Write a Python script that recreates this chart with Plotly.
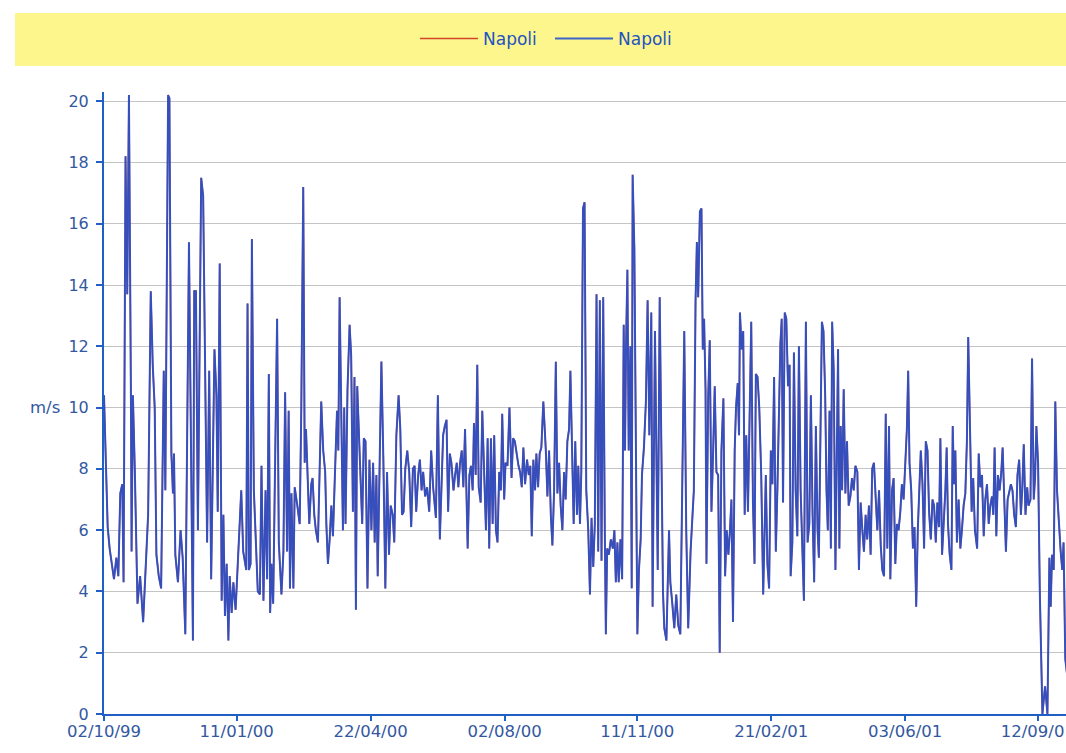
import pandas as pd
import plotly.graph_objects as go

# ---------------- data ----------------
START_DATE = "1999-10-02"
SERIES_NAMES = ["Napoli", "Napoli"]
Y_UNIT = "m/s"
TICK_DATES = ["1999-10-02", "2000-01-11", "2000-04-22", "2000-08-02",
              "2000-11-11", "2001-02-21", "2001-06-03", "2001-09-12"]
Y_TICKS = [0, 2, 4, 6, 8, 10, 12, 14, 16, 18, 20]

# days after START_DATE
DAY_OFFSET = [
    0, 2.8, 4.3, 5.8, 7.6, 9.4, 10.9, 12.4, 13.9, 14.9, 16.4, 17.7, 19.0, 20.5, 21.0, 22.0,
    23.5, 25.5, 27.5, 29.8, 31.6, 33.6, 35.6, 37.1, 38.6, 39.9, 41.7, 43.5, 45.5, 46.7, 48.8,
    49.8, 51.3, 52.5, 53.3, 54.3, 56.3, 58.3, 59.9, 61.9, 64.7, 67.7, 68.7, 70.0, 71.5, 74.0,
    75.5, 77.0, 78.5, 80.1, 81.6, 84.1,
    85.6, 86.6, 88.1, 89.6, 90.9, 92.1, 93.4, 94.7, 95.7, 97.2, 98.5, 100.2, 102.8, 104.5,
    106.0, 107.3, 108.3, 109.3, 110.3, 111.6, 112.6, 114.1, 115.4, 117.1, 118.7, 119.9, 121.4,
    123.0, 124.2, 125.5, 126.5, 127.5, 128.8, 130.0, 131.8, 133.1, 135.1, 136.6, 137.9, 139.4,
    140.6, 141.6, 142.7, 144.2, 145.2, 147.2, 149.0, 150.2, 151.7, 152.8, 153.8, 155.0, 156.3,
    157.8, 158.8, 160.1, 161.3, 162.9, 164.1, 165.4, 166.9, 168.4,
    169.3, 170.5, 171.8, 173.1, 174.3, 175.8, 177.4, 178.4, 179.4, 180.6, 181.9, 182.9, 183.9,
    185.4, 187.0, 188.2, 189.5, 190.7, 191.8, 192.8, 193.8, 195.0, 196.6, 197.8, 199.1, 200.6,
    202.1, 203.6, 204.9, 206.1, 207.4, 208.4, 209.7, 211.2, 212.7, 214.2, 215.5, 217.0, 218.3,
    219.8, 221.0, 222.6, 224.3, 225.6, 226.9, 228.1, 229.4, 230.9, 232.4, 233.9, 235.2, 236.5,
    237.7, 239.2, 240.5, 241.8, 243.0, 244.5, 246.0, 247.6, 249.1, 250.6,
    252.7, 254.2, 255.7, 257.0, 258.2, 259.5, 260.8, 262.0, 263.3, 264.5, 266.1, 267.3, 268.6,
    269.8, 271.1, 272.4, 273.6, 274.9, 275.9, 276.9, 278.2, 279.4, 280.7, 281.7, 283.0, 284.2,
    285.3, 286.8, 288.0, 289.5, 290.8, 292.1, 293.3, 294.6, 295.9, 297.1, 298.4, 299.6, 300.9,
    302.2, 303.2, 304.7, 305.7, 307.2, 308.7, 310.3, 311.5, 312.8, 314.0, 315.6, 316.8, 318.1,
    319.3, 320.6, 322.1, 323.4, 324.6, 325.7, 326.9, 328.2, 329.2, 330.5, 331.7, 333.0, 334.5,
    336.4, 337.6, 338.9, 340.2, 341.4, 342.7, 344.0, 345.2, 346.5, 347.7, 349.0, 350.3, 351.5,
    352.8, 354.1, 355.1, 356.3, 357.6, 358.8, 360.1, 361.1, 362.4, 363.4, 364.7, 365.9, 367.2,
    368.7, 370.0, 371.2, 372.5, 373.7, 375.0, 376.3, 377.5, 378.8, 380.1, 381.3, 382.1, 383.1,
    384.4, 385.9, 387.4, 388.6, 389.7, 390.9, 391.9, 393.2, 394.5, 395.7, 396.7, 397.5, 398.5,
    399.5, 400.8, 401.8, 402.5, 403.8, 405.1, 406.1, 407.3, 408.6, 409.6, 411.1, 412.6, 413.9,
    415.2, 416.7, 417.7,
    419.5, 421.6, 423.1, 424.6, 425.6, 426.6, 428.2, 430.2, 431.2, 432.7, 434.2, 435.7, 437.2,
    438.8, 440.3, 441.8, 443.3, 444.8, 446.6, 449.1, 450.4, 451.4, 452.4, 453.7, 454.9, 455.9,
    456.9, 458.0, 458.7, 460.0, 461.2, 462.5, 463.8, 465.0, 466.3, 467.6, 468.8, 470.1, 471.6,
    472.9, 474.1, 475.4, 476.6, 477.7, 478.9, 480.2, 481.2, 482.5, 483.5, 484.2, 485.5, 486.7,
    487.8, 489.0, 490.3, 491.5, 492.8, 494.1, 495.3, 496.3, 497.6, 498.9, 500.4, 501.9,
    503.9, 505.1, 506.4, 507.7, 508.9, 510.2, 511.5, 512.7, 514.0, 515.0, 516.0, 517.0, 518.3,
    519.5, 520.8, 522.0, 522.8, 524.1, 525.3, 526.6, 527.9, 529.1, 530.4, 531.7, 532.9, 534.4,
    535.7, 537.0, 538.2, 539.5, 540.7, 542.0, 543.3, 544.3, 545.3, 546.6, 547.8, 549.1, 550.1,
    551.1, 552.4, 553.4, 554.4, 555.6, 556.9, 557.9, 558.9, 559.9, 560.9, 562.0, 563.2, 564.5,
    565.7, 567.0, 568.3, 569.5, 570.8, 572.1, 573.6, 574.8, 576.1, 577.4, 578.6, 579.9, 581.1,
    582.4, 583.7, 584.9, 586.2,
    588.8, 590.1, 591.4, 592.6, 593.9, 595.2, 596.4, 597.7, 598.7, 600.0, 601.2, 602.5, 603.7,
    605.0, 606.3, 607.5, 608.8, 610.0, 611.3, 612.3, 613.3, 614.6, 615.9, 617.1, 618.4, 619.6,
    620.9, 621.9, 623.2, 624.4, 625.7, 627.0, 628.2, 629.5, 630.8, 632.0, 633.3, 634.5, 635.8,
    636.8, 638.1, 639.3, 640.6, 641.6, 642.6, 643.9, 645.2, 646.2, 647.2, 648.2, 649.4, 650.7,
    652.0, 653.2, 654.5, 655.8, 657.0, 658.0, 659.3, 660.6, 661.8, 663.1,
    664.8, 666.0, 667.3, 668.5, 669.8, 671.0, 672.3, 673.6, 674.8, 676.1, 677.1, 678.1, 679.4,
    680.6, 681.9, 683.2, 684.2, 685.4, 686.7, 688.0, 689.2, 690.5, 691.7, 693.0, 694.3, 695.5,
    696.8, 698.1, 699.1, 700.3, 701.6, 702.9, 703.9, 705.4, 706.6, 707.9, 708.9, 709.9, 711.2,
    712.5, 714.5, 716.5, 718.3, 719.8, 720.8, 721.8, 723.1, 724.3, 725.6, 727.1, 728.4, 729.6,
    730.6, 731.9, 733.5,
]

# wind speed, m/s
SPEED_MS = [
    10.4, 6.1, 5.4, 4.9, 4.4, 5.1, 4.5, 7.2, 7.5, 4.3, 18.2, 13.7, 20.2, 10.4, 5.3, 10.4,
    7.9, 3.6, 4.5, 3.0, 4.6, 6.5, 13.8, 11.4, 10.0, 5.2, 4.5, 4.1, 11.2, 7.3, 20.2,
    20.1, 8.5, 7.2, 8.5, 5.2, 4.3, 6.0, 5.1, 2.6, 15.4, 2.4, 13.8, 13.8, 6.0, 17.5,
    16.9, 11.2, 5.6, 11.2, 4.4, 11.9,
    10.4, 6.6, 14.7, 3.7, 6.5, 3.2, 4.9, 2.4, 4.5, 3.3, 4.3, 3.4, 5.6, 7.3,
    5.3, 4.9, 4.7, 13.4, 4.7, 4.9, 15.5, 7.3, 6.0, 4.0, 3.9, 8.1, 3.7,
    7.3, 4.4, 11.1, 3.3, 4.9, 3.6, 8.1, 12.9, 5.6, 3.9, 5.3, 10.5, 5.3,
    9.9, 4.1, 7.2, 4.1, 7.4, 6.8, 6.2, 9.9, 17.2, 8.2, 9.3, 7.8, 6.2,
    7.5, 7.7, 6.5, 6.0, 5.6, 7.8, 10.2, 8.6, 7.9,
    6.2, 4.9, 5.7, 6.8, 5.8, 7.9, 9.9, 8.6, 13.6, 10.0, 6.0, 10.0, 6.2,
    10.6, 12.7, 11.7, 6.6, 11.0, 3.4, 10.7, 9.5, 7.9, 6.2, 9.0, 8.9, 4.1,
    8.3, 6.0, 8.2, 5.6, 7.8, 4.5, 7.7, 11.5, 8.3, 4.1, 7.9, 5.2, 6.8,
    6.5, 5.6, 9.1, 10.4, 9.3, 6.5, 6.6, 8.0, 8.6, 7.9, 6.1, 8.0, 8.1,
    6.6, 7.8, 8.3, 7.3, 7.9, 7.1, 7.4, 6.6, 8.6, 7.4,
    6.4, 10.4, 5.7, 7.3, 9.1, 9.4, 9.6, 6.6, 8.5, 8.2, 7.3, 7.8, 8.2,
    7.4, 8.2, 8.6, 7.4, 9.3, 7.3, 5.4, 7.8, 8.1, 7.3, 9.5, 7.8, 11.4,
    7.4, 6.9, 9.9, 7.8, 6.0, 9.0, 5.4, 9.0, 6.2, 9.1, 6.0, 5.6, 7.9,
    7.3, 9.8, 7.0, 8.2, 8.1, 10.0, 7.7, 9.0, 8.9, 8.5, 8.1, 7.9, 7.4,
    8.7, 7.5, 8.3, 7.8, 8.1, 5.8, 8.3, 7.3, 8.5, 7.4, 8.5, 8.7, 10.2,
    8.6, 7.1, 8.6, 6.5, 5.5, 7.3, 11.5, 7.2, 8.2, 6.8, 6.0, 7.9, 7.0,
    8.9, 9.3, 11.2, 8.3, 6.2, 8.9, 6.5, 8.1, 6.2, 7.9, 16.5, 16.7, 7.3,
    6.0, 3.9, 6.4, 4.8, 6.2, 13.7, 5.3, 13.5, 5.0, 13.6, 6.0, 2.6, 5.4,
    5.2, 5.7, 5.4, 6.0, 4.3, 5.6, 4.3, 5.7, 4.4, 12.7, 8.6, 12.1, 14.5,
    8.6, 12.0, 4.1, 17.6, 15.2, 6.2, 2.6, 4.7, 5.7, 7.8, 8.7, 10.2, 13.5,
    9.1, 13.1, 3.5,
    12.5, 4.7, 13.6, 7.8, 4.0, 2.8, 2.4, 6.0, 4.3, 3.6, 2.8, 3.9, 2.9,
    2.6, 7.3, 12.5, 6.0, 2.8, 5.3, 7.3, 13.5, 15.4, 13.6, 16.4, 16.5, 11.9,
    12.9, 10.6, 4.9, 10.3, 12.2, 6.6, 8.6, 10.7, 7.9, 7.8, 2.0, 8.6, 10.3,
    4.5, 6.0, 5.2, 6.0, 7.0, 3.0, 8.6, 10.0, 10.8, 9.1, 13.1, 11.9, 12.5,
    6.5, 9.1, 6.6, 10.3, 12.8, 6.9, 4.9, 11.1, 11.0, 10.0, 7.8, 3.9,
    7.8, 4.9, 4.1, 8.6, 7.5, 11.0, 5.3, 7.3, 9.9, 12.1, 12.9, 6.9, 13.1,
    12.9, 10.7, 11.4, 4.5, 5.6, 11.8, 7.3, 5.8, 12.0, 7.3, 5.3, 3.7, 12.8,
    5.6, 6.2, 10.4, 6.5, 4.3, 9.4, 6.0, 5.1, 9.5, 12.8, 12.5, 10.4, 7.3,
    6.0, 9.9, 5.4, 12.8, 11.2, 4.7, 9.0, 11.9, 5.4, 9.4, 7.3, 10.6, 7.2,
    8.9, 6.8, 7.1, 7.7, 7.3, 8.1, 7.9, 4.7, 6.9, 6.0, 5.3, 6.5, 5.7,
    6.8, 5.2, 8.0, 8.2,
    6.0, 7.3, 5.5, 4.7, 4.5, 9.8, 5.4, 9.4, 4.4, 7.3, 7.7, 4.9, 6.2,
    6.0, 6.6, 7.5, 7.0, 8.2, 9.3, 11.2, 8.2, 7.3, 5.4, 6.1, 3.5, 6.0,
    7.3, 8.6, 7.5, 5.4, 8.9, 8.6, 6.6, 5.7, 7.0, 6.8, 5.6, 6.9, 6.1,
    9.0, 5.2, 6.2, 7.3, 8.7, 6.2, 5.2, 4.7, 9.4, 7.5, 8.6, 5.6, 7.0,
    5.4, 6.0, 6.8, 7.2, 8.9, 12.3, 9.0, 6.6, 7.7, 6.0,
    5.4, 8.5, 7.4, 7.8, 5.8, 7.0, 7.5, 6.2, 6.8, 7.1, 6.5, 8.7, 5.8,
    7.8, 7.3, 7.9, 8.7, 6.8, 5.3, 7.0, 7.3, 7.5, 7.3, 6.5, 6.1, 7.8,
    8.3, 6.5, 7.3, 8.8, 6.5, 7.4, 6.8, 7.0, 11.6, 7.0, 7.7, 9.4, 8.2,
    4.0, 0.0, 0.9, 0.0, 5.1, 3.5, 5.2, 4.7, 10.2, 7.3, 6.1, 5.3, 4.7,
    5.6, 1.8, 1.2,
]

# ---------------- figure ----------------
start = pd.Timestamp(START_DATE)
dates = start + pd.to_timedelta(DAY_OFFSET, unit="D")
tick_dates = pd.to_datetime(TICK_DATES)

W, H = 1066, 753
ML, MR, MT, MB = 104, 0, 92, 39
plot_w = W - ML - MR
plot_h = H - MT - MB
PX_PER_DAY = 1.3134
x_end = start + pd.Timedelta(days=plot_w / PX_PER_DAY)

TICK_COLOR = "#33589f"
AXIS_COLOR = "#1f5fc6"
FONT = "DejaVu Sans, Verdana, sans-serif"


def px_x(p):
    """page pixel -> paper x"""
    return (p - ML) / plot_w


def px_y(p):
    """page pixel -> paper y"""
    return (H - MB - p) / plot_h


fig = go.Figure()
fig.add_trace(go.Scatter(
    x=dates, y=SPEED_MS, mode="lines", name=SERIES_NAMES[0],
    line=dict(color="#d2452a", width=1.6),
))
fig.add_trace(go.Scatter(
    x=dates, y=SPEED_MS, mode="lines", name=SERIES_NAMES[1],
    line=dict(color="#1f4fd0", width=2.0), opacity=0.87,
))

fig.update_layout(
    width=W, height=H,
    margin=dict(l=ML, r=MR, t=MT, b=MB, pad=0, autoexpand=False),
    paper_bgcolor="white", plot_bgcolor="white",
    font=dict(family=FONT, size=16, color=TICK_COLOR),
    showlegend=True,
    legend=dict(
        orientation="h", x=px_x(550), xanchor="center", y=px_y(39), yanchor="middle",
        bgcolor="rgba(0,0,0,0)", font=dict(size=17, color="#2352c4", family=FONT),
        itemwidth=58, entrywidth=62, traceorder="normal",
    ),
    shapes=[dict(
        type="rect", xref="paper", yref="paper",
        x0=px_x(15), x1=px_x(1120), y0=px_y(66), y1=px_y(13),
        fillcolor="#fcf68c", line=dict(width=0), layer="below",
    )],
    annotations=[dict(
        text=Y_UNIT, xref="paper", yref="y", x=px_x(62), y=10,
        xanchor="right", yanchor="middle", showarrow=False,
        font=dict(size=16.5, color=TICK_COLOR, family=FONT),
    )],
    xaxis=dict(
        type="date", range=[start, x_end], automargin=False,
        tickvals=tick_dates, tickformat="%d/%m/%y",
        showgrid=False, zeroline=False,
        showline=True, linecolor=AXIS_COLOR, linewidth=2,
        ticks="outside", ticklen=5, tickwidth=1.5, tickcolor=AXIS_COLOR,
        ticklabelstandoff=-4, ticklabeloverflow="allow",
        tickfont=dict(size=16.5, color=TICK_COLOR, family=FONT),
    ),
    yaxis=dict(
        range=[0, 20.3], tickvals=Y_TICKS, automargin=False,
        showgrid=True, gridcolor="#c4c4c4", gridwidth=1,
        zeroline=False,
        showline=True, linecolor=AXIS_COLOR, linewidth=2,
        ticks="outside", ticklen=6, tickwidth=1.5, tickcolor=AXIS_COLOR,
        ticklabelstandoff=4,
        tickfont=dict(size=16, color=TICK_COLOR, family=FONT),
    ),
)

fig.write_html(
    "out.html",
    config={"displayModeBar": False},
    post_script="document.body.style.margin='0';",
)
